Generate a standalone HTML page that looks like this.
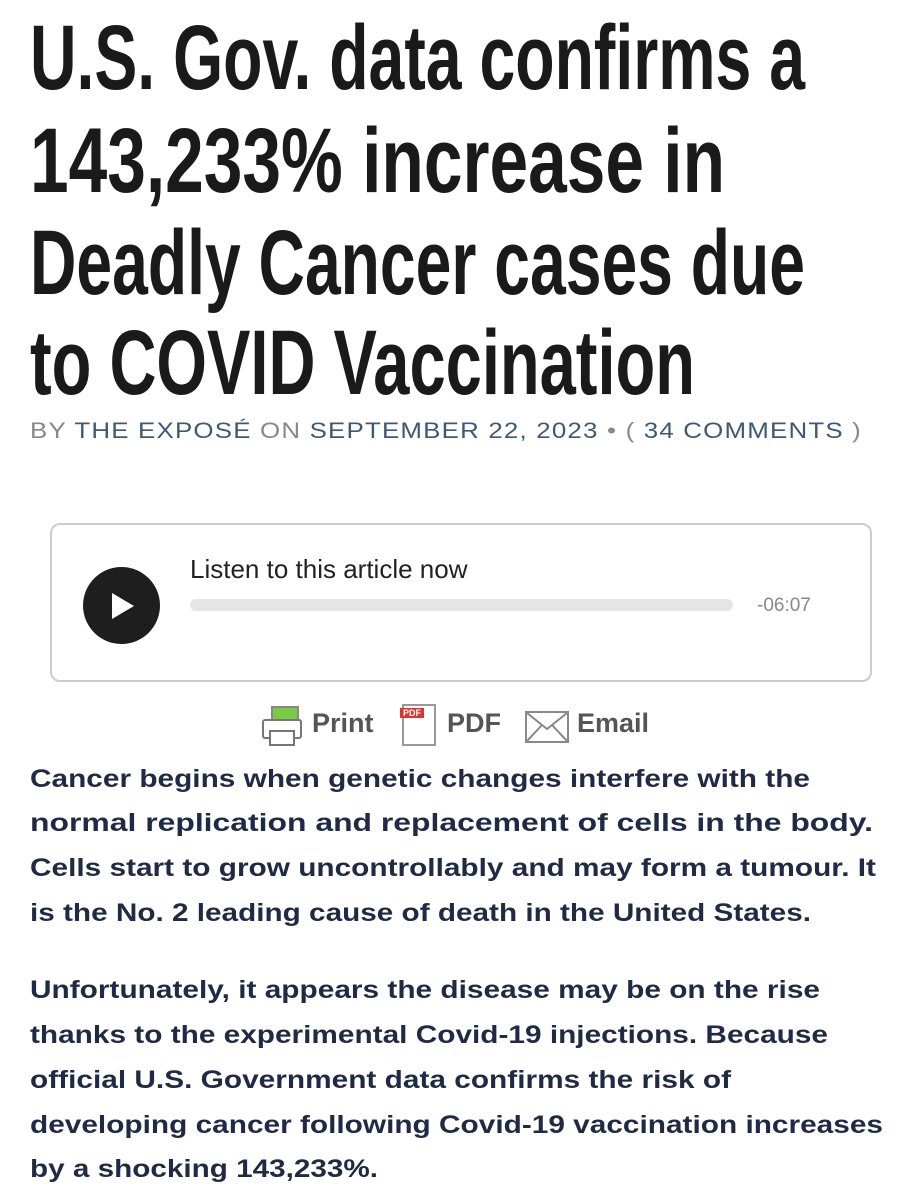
<!DOCTYPE html>
<html><head><meta charset="utf-8"><style>
body{margin:0;width:914px;height:1200px;background:#fff;position:relative;overflow:hidden;font-family:"Liberation Sans",sans-serif}
.l{position:absolute;left:30px;white-space:nowrap;transform-origin:0 0}
.t{font-family:"Liberation Sans Narrow","Liberation Sans",sans-serif;font-size:92px;font-weight:bold;color:#1a1a1a;line-height:100px}
.b{font-size:25px;font-weight:bold;color:#1f2a44;line-height:30px}
.g{color:#888}.k{color:#3d5a75}
</style></head><body>
<div class="l t" style="top:8px">U.S. Gov. data confirms a</div>
<div class="l t" style="top:111px">143,233% increase in</div>
<div class="l t" style="top:213px">Deadly Cancer cases due</div>
<div class="l t" style="top:313px">to COVID Vaccination</div>
<div class="l" style="top:418px;font-size:22px;letter-spacing:1px"><span class="g">BY </span><span class="k">THE EXPOSÉ</span><span class="g"> ON </span><span class="k">SEPTEMBER 22, 2023</span><span class="g"> • ( </span><span class="k">34 COMMENTS</span><span class="g"> )</span></div>
<div style="position:absolute;left:50px;top:523px;width:818px;height:155px;border:2px solid #ccc;border-radius:10px"></div>
<div style="position:absolute;left:83px;top:567px;width:77px;height:77px;border-radius:50%;background:#1e1e1e"></div>
<div style="position:absolute;left:112px;top:593px;width:0;height:0;border-left:22px solid #fff;border-top:13px solid transparent;border-bottom:13px solid transparent"></div>
<div style="position:absolute;left:190px;top:554px;font-size:26px;color:#222">Listen to this article now</div>
<div style="position:absolute;left:190px;top:599px;width:543px;height:12px;border-radius:6px;background:#e5e5e5"></div>
<div style="position:absolute;left:757px;top:595px;font-size:19px;color:#888">-06:07</div>
<div style="position:absolute;left:262px;top:706px;width:40px;height:38px">
 <div style="position:absolute;left:9px;top:0;width:24px;height:14px;border:2px solid #888;background:#7c4"></div>
 <div style="position:absolute;left:0;top:13px;width:36px;height:16px;border:2px solid #777;border-radius:3px;background:#fff"></div>
 <div style="position:absolute;left:7px;top:24px;width:22px;height:12px;border:2px solid #777;background:#fff"></div></div>
<div style="position:absolute;left:312px;top:708px;font-size:27px;font-weight:bold;color:#555">Print</div>
<div style="position:absolute;left:402px;top:704px;width:30px;height:38px;border:2px solid #999;background:#fff"><div style="background:#d33;color:#fff;font-size:9px;font-weight:bold;width:24px;margin:2px 0 0 -4px;text-align:center">PDF</div></div>
<div style="position:absolute;left:447px;top:708px;font-size:27px;font-weight:bold;color:#555">PDF</div>
<div style="position:absolute;left:525px;top:711px;width:40px;height:28px;border:2px solid #888;overflow:hidden"><svg width="40" height="28"><path d="M0 0 L20 16 L40 0 M0 28 L15 12 M40 28 L25 12" stroke="#888" stroke-width="2" fill="none"/></svg></div>
<div style="position:absolute;left:577px;top:708px;font-size:27px;font-weight:bold;color:#555">Email</div>
<div class="l b" style="top:764px">Cancer begins when genetic changes interfere with the</div>
<div class="l b" style="top:808px">normal replication and replacement of cells in the body.</div>
<div class="l b" style="top:853px">Cells start to grow uncontrollably and may form a tumour. It</div>
<div class="l b" style="top:898px">is the No. 2 leading cause of death in the United States.</div>
<div class="l b" style="top:975px">Unfortunately, it appears the disease may be on the rise</div>
<div class="l b" style="top:1020px">thanks to the experimental Covid-19 injections. Because</div>
<div class="l b" style="top:1065px">official U.S. Government data confirms the risk of</div>
<div class="l b" style="top:1110px">developing cancer following Covid-19 vaccination increases</div>
<div class="l b" style="top:1154px">by a shocking 143,233%.</div>
<script>
var w=[775,695,775,665,832,780,843,846,781,790,798,701,853,348];
var els=document.querySelectorAll('.l');
for(var i=0;i<els.length;i++){var e=els[i];
 var r=e.getBoundingClientRect().width; if(r>0)e.style.transform='scaleX('+(w[i]/r)+')';}
</script>
</body></html>
